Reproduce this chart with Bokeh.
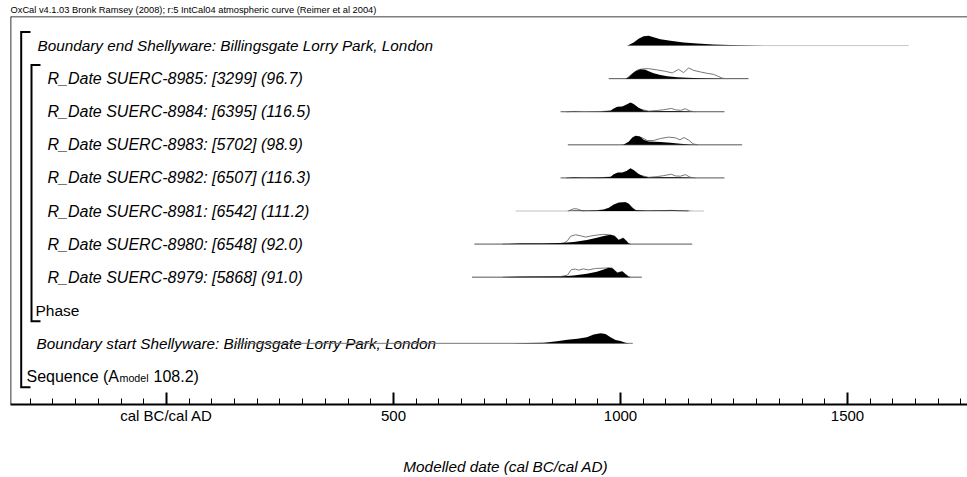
from bokeh.plotting import figure
from bokeh.models import Range1d, FixedTicker, Span
from bokeh.core.properties import value
from bokeh.embed import file_html
from bokeh.resources import INLINE

# ---------------- data ----------------
HEADER = "OxCal v4.1.03 Bronk Ramsey (2008); r:5 IntCal04 atmospheric curve (Reimer et al 2004)"
AXIS_TITLE = "Modelled date (cal BC/cal AD)"
TICKS = [0, 500, 1000, 1500]
TICK_LABELS = ["cal BC/cal AD", "500", "1000", "1500"]
MINOR_TICKS = list(range(-300, 1801, 50))

ROW_LABELS = [
    "Boundary end Shellyware: Billingsgate Lorry Park, London",
    "R_Date SUERC-8985: [3299] (96.7)",
    "R_Date SUERC-8984: [6395] (116.5)",
    "R_Date SUERC-8983: [5702] (98.9)",
    "R_Date SUERC-8982: [6507] (116.3)",
    "R_Date SUERC-8981: [6542] (111.2)",
    "R_Date SUERC-8980: [6548] (92.0)",
    "R_Date SUERC-8979: [5868] (91.0)",
    "Phase",
    "Boundary start Shellyware: Billingsgate Lorry Park, London",
]
SEQUENCE_LABEL = ["Sequence (A", "model", "108.2)"]

# Boundary end (row 0)
END_RANGE = [1015, 1635]
END_POST_X = [1015, 1018, 1029, 1040, 1051, 1062, 1073, 1088, 1110, 1139, 1169, 1205, 1242, 1279, 1330, 1389]
END_POST_P = [0, 0.5, 3.0, 6.7, 9.3, 9.7, 8.3, 6.3, 4.7, 3.0, 2.0, 1.0, 0.5, 0.3, 0.1, 0]

# SUERC-8985 (row 1)
D8985_RANGE = [974, 1282]
D8985_POST_X = [1011, 1018, 1026, 1033, 1044, 1055, 1062, 1073, 1088, 1103, 1125, 1147, 1176, 1205, 1235]
D8985_POST_P = [0, 1.5, 5.0, 7.5, 9.3, 9.0, 7.5, 5.5, 3.7, 2.5, 1.5, 1.0, 0.5, 0.2, 0]
D8985_LIK_X = [1013, 1026, 1037, 1048, 1062, 1081, 1099, 1114, 1128, 1139, 1150, 1161, 1176, 1191, 1205, 1214, 1224, 1235]
D8985_LIK_P = [0, 5.0, 8.5, 9.7, 10.0, 8.7, 7.3, 5.7, 9.3, 6.0, 10.7, 8.3, 6.7, 5.3, 4.3, 2.5, 0.5, 0]

# SUERC-8984 (row 2)
D8984_RANGE = [868, 1229]
D8984_POST_X = [880, 897, 920, 956, 978, 985, 993, 1004, 1011, 1022, 1029, 1040, 1051, 1062, 1088, 1117, 1147, 1161]
D8984_POST_P = [0, 0.3, 0.1, 0.3, 1.0, 3.3, 5.0, 5.3, 6.7, 9.3, 7.7, 4.0, 1.3, 0.5, 0.7, 0.7, 0.5, 0]
D8984_LIK_X = [880, 897, 956, 978, 990, 1004, 1022, 1040, 1062, 1081, 1095, 1112, 1121, 1132, 1143, 1153, 1165]
D8984_LIK_P = [0, 0.3, 0.2, 0.8, 3.0, 4.5, 7.0, 3.0, 0.6, 1.3, 2.0, 3.3, 2.0, 1.3, 3.0, 0.7, 0]

# SUERC-8983 (row 3)
D8983_RANGE = [884, 1268]
D8983_POST_X = [1000, 1007, 1018, 1026, 1033, 1043, 1051, 1062, 1088, 1110, 1132, 1154, 1176]
D8983_POST_P = [0, 0.3, 3.0, 7.3, 9.0, 8.3, 5.0, 3.3, 2.7, 2.0, 1.0, 0.3, 0]
D8983_LIK_X = [1012, 1026, 1035, 1048, 1059, 1073, 1088, 1106, 1121, 1131, 1140, 1150, 1160, 1169]
D8983_LIK_P = [0, 6.0, 8.3, 7.0, 4.3, 4.3, 6.3, 7.7, 7.0, 5.0, 7.3, 4.7, 1.0, 0]

# SUERC-8982 (row 4)
D8982_RANGE = [868, 1229]
D8982_POST_X = [880, 897, 920, 956, 978, 985, 994, 1004, 1013, 1022, 1029, 1040, 1051, 1062, 1088, 1117, 1147, 1161]
D8982_POST_P = [0, 0.3, 0.1, 0.3, 1.0, 3.7, 5.3, 5.3, 7.0, 9.7, 8.0, 4.0, 1.3, 0.5, 0.7, 0.7, 0.5, 0]
D8982_LIK_X = [880, 897, 956, 978, 990, 1004, 1022, 1040, 1062, 1081, 1095, 1112, 1121, 1132, 1143, 1153, 1165]
D8982_LIK_P = [0, 0.3, 0.2, 0.8, 3.0, 4.5, 7.0, 3.0, 0.6, 1.3, 2.3, 3.7, 2.0, 1.7, 3.3, 0.7, 0]

# SUERC-8981 (row 5)
D8981_RANGE = [769, 1184]
D8981_POST_X = [880, 897, 905, 926, 948, 963, 974, 985, 996, 1011, 1018, 1026, 1033, 1059, 1110, 1147, 1161]
D8981_POST_P = [0, 0.6, 0.4, 0.3, 0.5, 1.3, 3.0, 6.3, 8.3, 8.7, 7.3, 3.3, 0.7, 0.3, 0.5, 0.3, 0]
D8981_LIK_X = [885, 897, 905, 915, 948, 963, 974, 985, 996, 1011, 1018, 1026, 1035, 1100, 1110, 1125, 1150]
D8981_LIK_P = [0, 2.3, 2.0, 0.2, 0.4, 1.2, 2.8, 6.0, 8.0, 8.5, 7.0, 3.0, 0.3, 0.4, 0.7, 0.3, 0]

# SUERC-8980 (row 6)
D8980_RANGE = [678, 1158]
D8980_POST_X = [740, 780, 831, 868, 897, 926, 948, 963, 978, 987, 996, 1006, 1011, 1018, 1022]
D8980_POST_P = [0, 0.5, 0.7, 1.0, 2.0, 4.0, 6.3, 8.0, 9.3, 8.0, 4.0, 6.0, 4.0, 0.5, 0]
D8980_LIK_X = [740, 772, 868, 876, 883, 890, 901, 912, 923, 934, 948, 963, 974, 987, 996, 1006, 1011, 1018, 1022]
D8980_LIK_P = [0, 0.3, 0.6, 1.0, 3.3, 7.7, 9.3, 8.3, 7.0, 8.0, 9.0, 9.7, 9.3, 8.0, 4.0, 6.0, 4.0, 0.5, 0]

# SUERC-8979 (row 7)
D8979_RANGE = [673, 1047]
D8979_POST_X = [740, 780, 868, 897, 926, 948, 963, 974, 982, 993, 1004, 1011, 1018, 1022]
D8979_POST_P = [0, 0.5, 0.7, 1.7, 3.3, 5.5, 7.7, 9.3, 9.0, 4.3, 5.7, 3.0, 0.3, 0]
D8979_LIK_X = [740, 780, 868, 883, 892, 901, 908, 918, 930, 945, 963, 974, 982, 993, 1004, 1011, 1018, 1022]
D8979_LIK_P = [0, 0.4, 0.6, 2.0, 7.7, 8.0, 7.0, 8.3, 7.3, 8.7, 9.0, 9.3, 9.0, 4.3, 5.7, 3.0, 0.3, 0]

# Boundary start (row 9)
START_RANGE = [150, 1027]
START_POST_X = [760, 794, 831, 860, 883, 905, 926, 941, 956, 967, 978, 989, 1000, 1011, 1018]
START_POST_P = [0, 0.3, 0.7, 2.0, 3.7, 4.7, 6.0, 8.7, 10.0, 9.3, 6.0, 3.3, 2.3, 0.7, 0]

# ---------------- layout constants ----------------
W, HGT = 967, 477
FRAME_LEFT, FRAME_TOP, FRAME_BOTTOM = 10, 18, 405
PX_PER_YEAR = 0.454
FRAME_W = W - FRAME_LEFT
X_START = -343.6
X_END = X_START + FRAME_W / PX_PER_YEAR
ROW_PX = 33.0
ROW0_PX = 47.0
Y_TOP = (FRAME_TOP - ROW0_PX) / ROW_PX
Y_BOTTOM = (FRAME_BOTTOM - ROW0_PX) / ROW_PX
H = 1.0 / ROW_PX  # one density unit = 1 px

FONT = value("Liberation Sans")


def px_x(px):
    """page px -> data x"""
    return X_START + (px - FRAME_LEFT) / PX_PER_YEAR


p = figure(width=W, height=HGT, output_backend="svg", toolbar_location=None,
           x_range=Range1d(X_START, X_END), y_range=Range1d(Y_BOTTOM, Y_TOP),
           y_axis_location=None, min_border_left=FRAME_LEFT, min_border_right=0,
           min_border_top=0, min_border_bottom=0)
p.outline_line_color = None
p.xgrid.visible = False
p.ygrid.visible = False
p.background_fill_color = "white"
p.border_fill_color = "white"

# header as title (top)
p.title.text = HEADER
p.title.text_font = "Liberation Sans"
p.title.text_font_size = "9.3px"
p.title.text_font_style = "normal"
p.title.text_color = "black"
p.title.standoff = 4
p.title.offset = 0
p.title.align = "left"

ax = p.xaxis[0]
ax.ticker = FixedTicker(ticks=TICKS, minor_ticks=MINOR_TICKS)
ax.major_label_overrides = {t: l for t, l in zip(TICKS, TICK_LABELS)}
ax.axis_line_width = 2
ax.axis_line_color = "black"
ax.major_tick_in = 12
ax.major_tick_out = 0
ax.major_tick_line_width = 2
ax.minor_tick_in = 6
ax.minor_tick_out = 0
ax.minor_tick_line_width = 1
ax.major_label_standoff = 2
ax.major_label_text_font = "Liberation Sans"
ax.major_label_text_font_size = "15px"
ax.major_label_text_color = "black"
# the title sits right of the frame centre (the original frame runs past the window):
# two em spaces and a thin space in front move the centred text to the right
ax.axis_label = "\u2003\u2003\u2009" + AXIS_TITLE
ax.axis_label_text_font = "Liberation Sans"
ax.axis_label_text_font_size = "15.3px"
ax.axis_label_text_font_style = "italic"
ax.axis_label_text_color = "black"
ax.axis_label_standoff = 31

# frame left/top lines
p.add_layout(Span(location=X_START, dimension="height", line_color="black", line_width=1.6))
p.add_layout(Span(location=Y_TOP, dimension="width", line_color="black", line_width=1.6))


# brackets
def bracket(px_v, px_h, first, last):
    xv, xh = px_x(px_v), px_x(px_h)
    p.line([xh, xv, xv, xh], [first - 0.41, first - 0.41, last + 0.33, last + 0.33],
           line_color="black", line_width=2, line_join="miter")


bracket(20.7, 30, 0, 10)
bracket(31, 40, 1, 8)

# labels
label_offsets = [27, 37, 37, 37, 37, 37, 37, 37, 25, 26]
label_sizes = ["15.3px"] + ["16px"] * 7 + ["15.5px", "15.3px"]
for i, (lab, off, sz) in enumerate(zip(ROW_LABELS, label_offsets, label_sizes)):
    style = "normal" if lab == "Phase" else "italic"
    p.text(x=[X_START], y=[i], text=[lab], x_offset=off, text_baseline="middle",
           text_font=FONT, text_font_size=sz, text_font_style=style, text_color="black")

seq_offsets = [16, 109, 143]
seq_sizes = ["16px", "10.7px", "16px"]
seq_dy = [0, 2, 0]
for t, off, sz, dy in zip(SEQUENCE_LABEL, seq_offsets, seq_sizes, seq_dy):
    p.text(x=[X_START], y=[10], text=[t], x_offset=off, y_offset=dy, text_baseline="middle",
           text_font=FONT, text_font_size=sz, text_color="black")


# distributions
def dist(row, rng, px, pp, lx=None, lp=None, base_color="#555555"):
    p.line(rng, [row, row], line_color=base_color, line_width=1)
    if lx is not None:
        p.line(lx, [row - v * H for v in lp], line_color="#777777", line_width=1)
    p.varea(x=px, y1=[row] * len(px), y2=[row - v * H for v in pp], fill_color="black")


dist(0, END_RANGE, END_POST_X, END_POST_P, base_color="#c8c8c8")
dist(1, D8985_RANGE, D8985_POST_X, D8985_POST_P, D8985_LIK_X, D8985_LIK_P)
dist(2, D8984_RANGE, D8984_POST_X, D8984_POST_P, D8984_LIK_X, D8984_LIK_P)
dist(3, D8983_RANGE, D8983_POST_X, D8983_POST_P, D8983_LIK_X, D8983_LIK_P)
dist(4, D8982_RANGE, D8982_POST_X, D8982_POST_P, D8982_LIK_X, D8982_LIK_P)
dist(5, D8981_RANGE, D8981_POST_X, D8981_POST_P, D8981_LIK_X, D8981_LIK_P, base_color="#c0c0c0")
dist(6, D8980_RANGE, D8980_POST_X, D8980_POST_P, D8980_LIK_X, D8980_LIK_P)
dist(7, D8979_RANGE, D8979_POST_X, D8979_POST_P, D8979_LIK_X, D8979_LIK_P)
dist(9, START_RANGE, START_POST_X, START_POST_P, base_color="#777777")

open("out.html", "w").write(file_html(p, INLINE))
